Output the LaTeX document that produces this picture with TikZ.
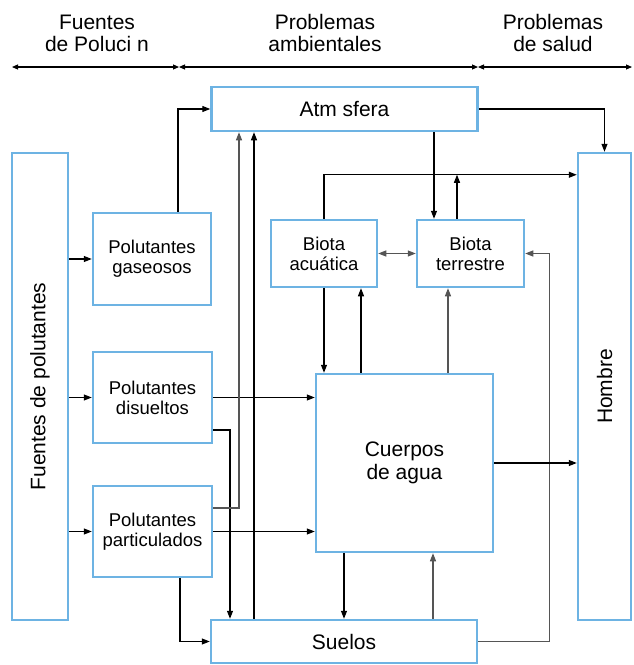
\documentclass[tikz,border=0pt]{standalone}
\usepackage{fontspec}
\setmainfont{Liberation Sans}
\usepackage{graphicx}
\usetikzlibrary{arrows.meta,positioning,calc}
\definecolor{cborde}{HTML}{6DB3E3}
\definecolor{cgrisl}{HTML}{555555}
\tikzset{
  caja/.style={draw=cborde,line width=2.5pt,fill=white,align=center,inner sep=2pt,
               font=\fontsize{18.5}{20}\selectfont},
  cajag/.style={caja,font=\fontsize{21}{23}\selectfont},
  flecha/.style={-{Triangle[length=8pt,width=6pt]},draw=black,line width=1.2pt},
  flechag/.style={flecha,draw=cgrisl},
  rango/.style={{Triangle[length=6pt,width=5pt]}-{Triangle[length=6pt,width=5pt]},line width=1.1pt},
  tit/.style={font=\fontsize{21}{22}\selectfont,align=center},
}

\begin{document}
\begin{tikzpicture}[x=1pt,y=1pt]
\useasboundingbox (0,0) rectangle (634,-665);

% encabezados
\node[tit] (tfu) at (97,-33) {Fuentes\\de Poluci n};
\node[tit] (tam) at (325,-33) {Problemas\\ambientales};
\node[tit] (tsa) at (553,-33) {Problemas\\de salud};
\coordinate (r0) at (12,-67);
\coordinate (r1) at (179,-67);
\coordinate (r2) at (478,-67);
\coordinate (r3) at (632,-67);
\draw[rango] (r0) -- (r1);
\draw[rango] (r1) -- (r2);
\draw[rango] (r2) -- (r3);

% cajas
\node[cajag,minimum width=56,minimum height=467] (fuentes) at (40,-386.5)
  {\rotatebox{90}{Fuentes de polutantes}};
\node[caja,minimum width=118,minimum height=92] (gas) at (152,-259) {Polutantes\\gaseosos};
\node[caja,minimum width=119,minimum height=91] (dis) at (152.5,-397.5) {Polutantes\\disueltos};
\node[caja,minimum width=119,minimum height=91] (par) at (152.5,-531.5) {Polutantes\\particulados};
\node[cajag,minimum width=266,minimum height=44] (atm) at (344.5,-109) {Atm sfera};
\node[caja,minimum width=106,minimum height=67] (bac) at (324,-253.5) {Biota\\acuática};
\node[caja,minimum width=107,minimum height=67] (bte) at (470.5,-253.5) {Biota\\terrestre};
\node[cajag,minimum width=177,minimum height=178] (agua) at (404.5,-463) {Cuerpos\\de agua};
\node[cajag,minimum width=266,minimum height=43] (suelos) at (344,-641.5) {Suelos};
\node[cajag,minimum width=53,minimum height=467] (hombre) at (604.5,-386.5)
  {\rotatebox{90}{Hombre}};

% puntos auxiliares
\coordinate (lin) at ([yshift=44pt]bac.north);
\coordinate (esq) at ([xshift=24.5pt]bte.east);
\coordinate (ba1) at ([xshift=37pt]bac.south);
\coordinate (bt1) at ([xshift=-13.5pt]bte.north);
\coordinate (bt2) at ([xshift=-22.5pt]bte.south);
\coordinate (su1) at ([xshift=89pt]suelos.north);
\coordinate (su2) at ([xshift=-90pt]suelos.north);
\coordinate (su3) at ([xshift=-114pt]suelos.north);
\coordinate (at1) at ([xshift=-105.5pt]atm.south);

% fuentes
\draw[flecha] (fuentes.east |- gas.west) -- (gas.west);
\draw[flecha] (fuentes.east |- dis.west) -- (dis.west);
\draw[flecha] (fuentes.east |- par.west) -- (par.west);

% polutantes
\draw[flecha] ([xshift=26pt]gas.north) |- (atm.west);
\draw[flecha] (dis.east) -- (agua.west |- dis.east);
\draw[flecha] (par.east) -- (agua.west |- par.east);
\draw[flecha] ([yshift=-32.5pt]dis.east) -| (su3);
\draw[flechag] ([yshift=23.5pt]par.east) -| (at1);
\draw[flecha] ([xshift=27.5pt]par.south) |- (suelos.west);

% atmosfera y biota
\draw[flecha] (su2) -- (su2 |- atm.south);
\draw[flecha] ([xshift=89.5pt]atm.south) -- ([xshift=89.5pt]atm.south |- bte.north);
\draw[flecha] (atm.east) -| (hombre.north);
\draw[flecha] (bac.north) |- (lin -| hombre.west);
\draw[flecha] (bt1) -- (bt1 |- lin);
\draw[flechag,{Triangle[length=8pt,width=6pt]}-{Triangle[length=8pt,width=6pt]}] (bac.east) -- (bte.west);
\draw[flechag] (suelos.east) -| (esq) -- (bte.east);

% cuerpos de agua
\draw[flecha] (bac.south) -- (bac.south |- agua.north);
\draw[flecha] (ba1 |- agua.north) -- (ba1);
\draw[flechag] (bt2 |- agua.north) -- (bt2);
\draw[flecha] (agua.east) -- (agua.east -| hombre.west);
\draw[flecha] (suelos.north |- agua.south) -- (suelos.north);
\draw[flechag] (su1) -- (su1 |- agua.south);

\end{tikzpicture}
\end{document}
